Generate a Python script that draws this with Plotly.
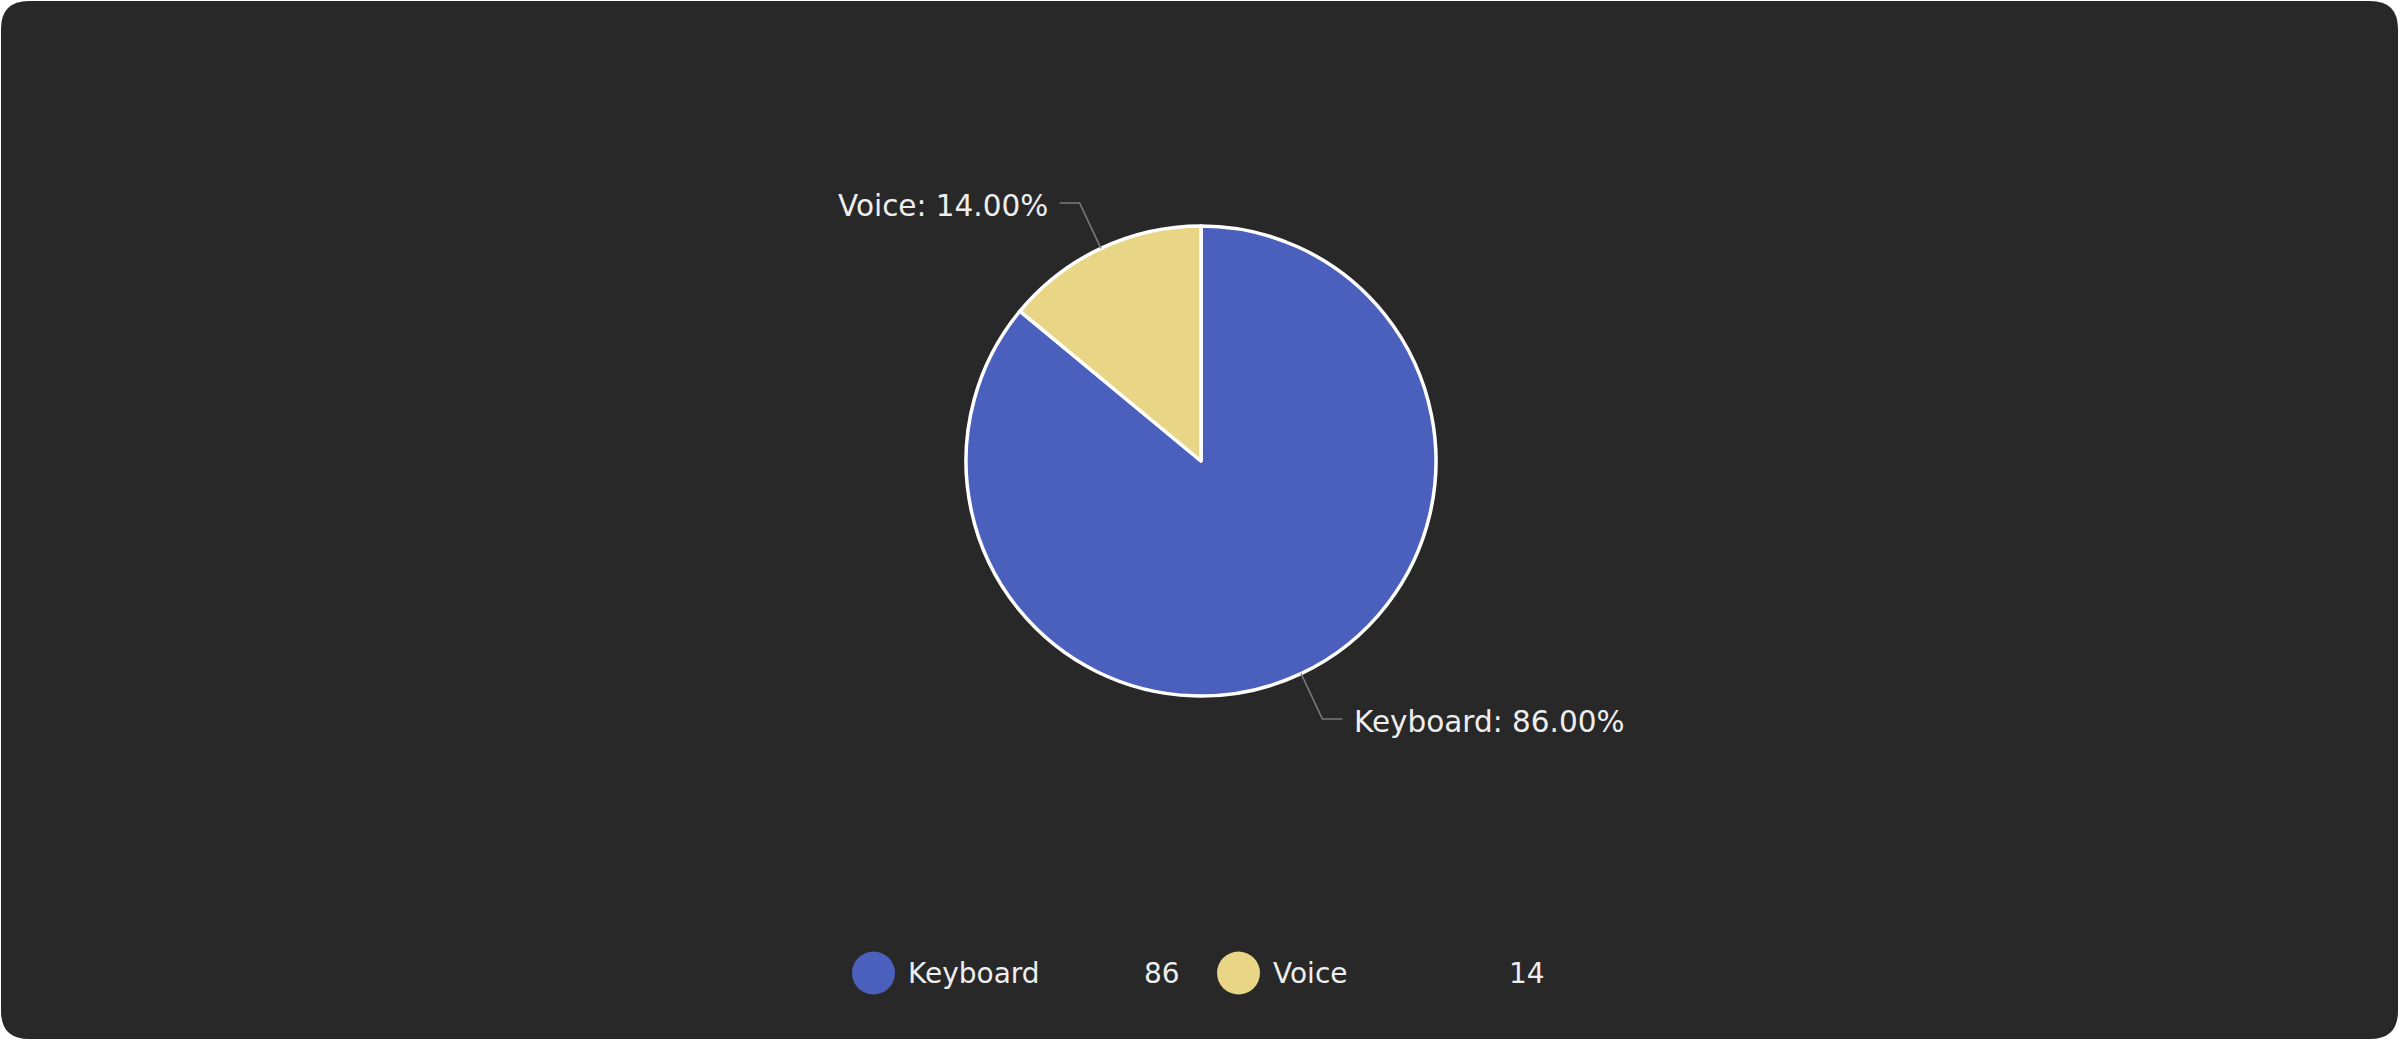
import math
import plotly.graph_objects as go

# ---- data ----
labels = ["Keyboard", "Voice"]
values = [86, 14]
colors = ["#4A60BC", "#E8D585"]

W, H = 2400, 1041
BG = "#282828"

# pie geometry (pixels, layout)
cx, cy, r = 1201, 461, 235
dom_x = [(cx - r) / W, (cx + r) / W]
dom_y = [1 - (cy + r) / H, 1 - (cy - r) / H]

fig = go.Figure()
fig.add_trace(go.Pie(
    labels=labels, values=values, sort=False, direction="clockwise", rotation=0,
    marker=dict(colors=colors, line=dict(color="#FFFFFF", width=3.5)),
    textinfo="none", hoverinfo="label+percent", showlegend=False,
    domain=dict(x=dom_x, y=dom_y),
))

def px(x):
    return x / W

def py(y):
    return 1 - y / H

shapes = []
annotations = []

# rounded background card
rad = 28
x0, y0, x1, y1 = 1, 1, W - 2, H - 2
path = (f"M {px(x0+rad)},{py(y0)} L {px(x1-rad)},{py(y0)} Q {px(x1)},{py(y0)} {px(x1)},{py(y0+rad)} "
        f"L {px(x1)},{py(y1-rad)} Q {px(x1)},{py(y1)} {px(x1-rad)},{py(y1)} "
        f"L {px(x0+rad)},{py(y1)} Q {px(x0)},{py(y1)} {px(x0)},{py(y1-rad)} "
        f"L {px(x0)},{py(y0+rad)} Q {px(x0)},{py(y0)} {px(x0+rad)},{py(y0)} Z")
shapes.append(dict(type="path", path=path, xref="paper", yref="paper",
                   fillcolor=BG, line=dict(width=0), layer="below"))

# outside labels with leader lines, derived from values
total = sum(values)
cum = 0
label_font = dict(family="DejaVu Sans, Verdana, sans-serif", size=29.5, color="#EEEEEE")
for lab, v in zip(labels, values):
    frac = v / total
    mid = (cum + frac / 2) * 2 * math.pi
    cum += frac
    sx, sy = math.sin(mid), -math.cos(mid)
    ex, ey = cx + r * sx, cy + r * sy
    kx, ky = cx + (r + 50) * sx, cy + (r + 50) * sy
    side = 1 if sx >= 0 else -1
    hx = kx + side * 20
    shapes.append(dict(type="path", xref="paper", yref="paper",
                       path=f"M {px(ex)},{py(ey)} L {px(kx)},{py(ky)} L {px(hx)},{py(ky)}",
                       line=dict(color="#7A7A7A", width=1.5)))
    annotations.append(dict(
        x=px(hx + side * 10), y=py(ky + 3), xref="paper", yref="paper",
        text=f"{lab}: {frac*100:.2f}%", showarrow=False,
        xanchor="left" if side > 0 else "right", yanchor="middle", font=label_font))

# custom legend
legend_font = dict(family="DejaVu Sans, Verdana, sans-serif", size=28, color="#EEEEEE")
leg_y = 973
item_x = [852, 1217]
for i, (lab, v, c) in enumerate(zip(labels, values, colors)):
    lx = item_x[i]
    shapes.append(dict(type="circle", xref="paper", yref="paper",
                       x0=px(lx), x1=px(lx + 43), y0=py(leg_y + 21.5), y1=py(leg_y - 21.5),
                       fillcolor=c, line=dict(width=0)))
    annotations.append(dict(x=px(lx + 54), y=py(leg_y), xref="paper", yref="paper",
                            text=lab, showarrow=False, xanchor="left", yanchor="middle",
                            font=legend_font))
    annotations.append(dict(x=px(lx + 330), y=py(leg_y), xref="paper", yref="paper",
                            text=str(v), showarrow=False, xanchor="right", yanchor="middle",
                            font=legend_font))

fig.update_layout(
    width=W, height=H, autosize=False,
    margin=dict(l=0, r=0, t=0, b=0),
    paper_bgcolor="#FFFFFF", plot_bgcolor="#FFFFFF",
    shapes=shapes, annotations=annotations,
)

fig.write_html("out.html", config={"displayModeBar": False},
               post_script="document.body.style.margin='0';document.body.style.overflow='hidden';"
                           "document.documentElement.style.overflow='hidden';")
